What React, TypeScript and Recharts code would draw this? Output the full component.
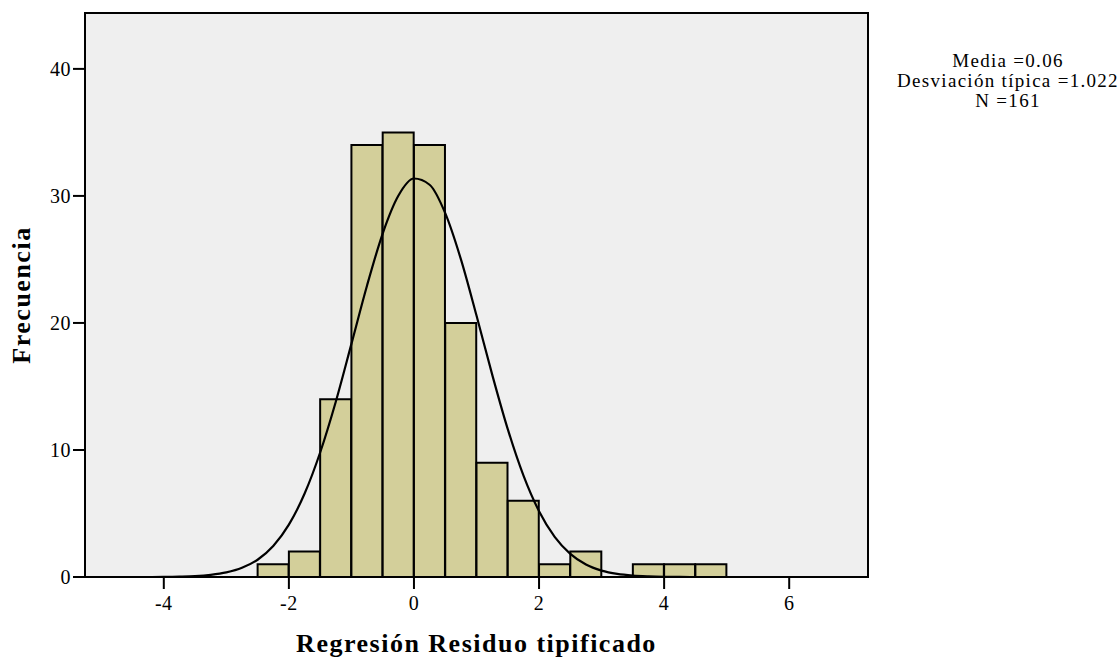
import React from 'react';
import {
  ComposedChart,
  Bar,
  Line,
  XAxis,
  YAxis,
  CartesianGrid,
  ReferenceArea,
  Label,
} from 'recharts';

// histogram bins (midpoint of each 0.5-wide bin) and their counts
const binMids = [-2.25, -1.75, -1.25, -0.75, -0.25, 0.25, 0.75, 1.25, 1.75, 2.25, 2.75, 3.25, 3.75, 4.25, 4.75];
const binCounts = [1, 2, 14, 34, 35, 34, 20, 9, 6, 1, 2, 0, 1, 1, 1];

// normal curve
const curveX = [
  -5.25, -4.75, -4.25, -4, -3.75, -3.5, -3.25, -3, -2.75, -2.5, -2.25, -2, -1.75, -1.5, -1.25, -1,
  -0.75, -0.5, -0.25, 0, 0.25, 0.5, 0.75, 1, 1.25, 1.5, 1.75, 2, 2.25, 2.5, 2.75, 3, 3.25, 3.5,
  3.75, 4, 4.25, 4.5, 5, 5.5, 6, 6.5, 7.25,
];
const curveY = [
  0, 0, 0, 0.01, 0.03, 0.07, 0.17, 0.36, 0.72, 1.36, 2.44, 4.12, 6.55, 9.8, 13.8, 18.35,
  22.95, 27.04, 30.01, 31.37, 30.88, 28.64, 25.02, 20.58, 15.95, 11.64, 8.0, 5.18, 3.16, 1.82, 0.98, 0.5, 0.24, 0.11,
  0.05, 0.02, 0.01, 0, 0, 0, 0, 0, 0,
];

const xTicks = [-4, -2, 0, 2, 4, 6];
const yTicks = [0, 10, 20, 30, 40];
const statsLines = ['Media =0.06', 'Desviación típica =1.022', 'N =161'];

const xDomain: [number, number] = [-5.26, 7.26];
const yDomain: [number, number] = [0, 44.4];

const bins = binMids.map((mid, i) => ({ mid, count: binCounts[i] }));
const curve = curveX.map((x, i) => ({ x, y: curveY[i] }));

const font = '"Liberation Serif", "Times New Roman", serif';
const tickStyle = { fill: '#000', fontSize: 20, fontFamily: font, letterSpacing: 0.5 };
const titleStyle = {
  fill: '#000',
  fontSize: 26,
  fontWeight: 'bold',
  fontFamily: font,
  letterSpacing: 1.5,
};

const App: React.FC = () => {
  return (
    <div style={{ position: 'absolute', left: 0, top: 0, width: 1120, height: 658, background: '#fff' }}>
      <ComposedChart
        width={1120}
        height={658}
        data={bins}
        margin={{ top: 13, right: 252, bottom: 0, left: 0 }}
        barCategoryGap={0}
        barGap={0}
      >
        <CartesianGrid fill="#efefef" horizontal={false} vertical={false} xAxisId="bins" />
        <XAxis
          xAxisId="bins"
          type="number"
          dataKey="mid"
          domain={xDomain}
          allowDataOverflow
          ticks={xTicks}
          tick={tickStyle}
          tickLine={{ stroke: '#000', strokeWidth: 2 }}
          axisLine={false}
          tickSize={12}
          tickMargin={7}
          height={81}
        >
          <Label
            value="Regresión Residuo tipificado"
            position="insideBottom"
            offset={6}
            style={titleStyle}
          />
        </XAxis>
        <XAxis xAxisId="curve" type="number" dataKey="x" domain={xDomain} allowDataOverflow hide />
        <YAxis
          type="number"
          domain={yDomain}
          allowDataOverflow
          ticks={yTicks}
          tick={tickStyle}
          tickLine={{ stroke: '#000', strokeWidth: 2 }}
          axisLine={false}
          tickSize={12}
          width={85}
        >
          <Label
            value="Frecuencia"
            angle={-90}
            position="insideLeft"
            offset={21}
            style={{ ...titleStyle, textAnchor: 'middle' }}
          />
        </YAxis>
        <Bar
          xAxisId="bins"
          dataKey="count"
          fill="#d3cf9a"
          stroke="#000"
          strokeWidth={2}
          isAnimationActive={false}
        />
        <Line
          xAxisId="curve"
          data={curve}
          dataKey="y"
          type="monotone"
          stroke="#000"
          strokeWidth={2.2}
          dot={false}
          activeDot={false}
          isAnimationActive={false}
        />
        <ReferenceArea
          xAxisId="bins"
          x1={xDomain[0]}
          x2={xDomain[1]}
          y1={yDomain[0]}
          y2={yDomain[1]}
          fill="none"
          stroke="#000"
          strokeWidth={2}
        />
      </ComposedChart>
      <div
        style={{
          position: 'absolute',
          left: 894,
          top: 51,
          width: 228,
          textAlign: 'center',
          fontFamily: font,
          fontSize: 19,
          letterSpacing: 1.3,
          lineHeight: '20px',
          color: '#000',
        }}
      >
        {statsLines.map((s) => (
          <div key={s}>{s}</div>
        ))}
      </div>
    </div>
  );
};

export default App;
